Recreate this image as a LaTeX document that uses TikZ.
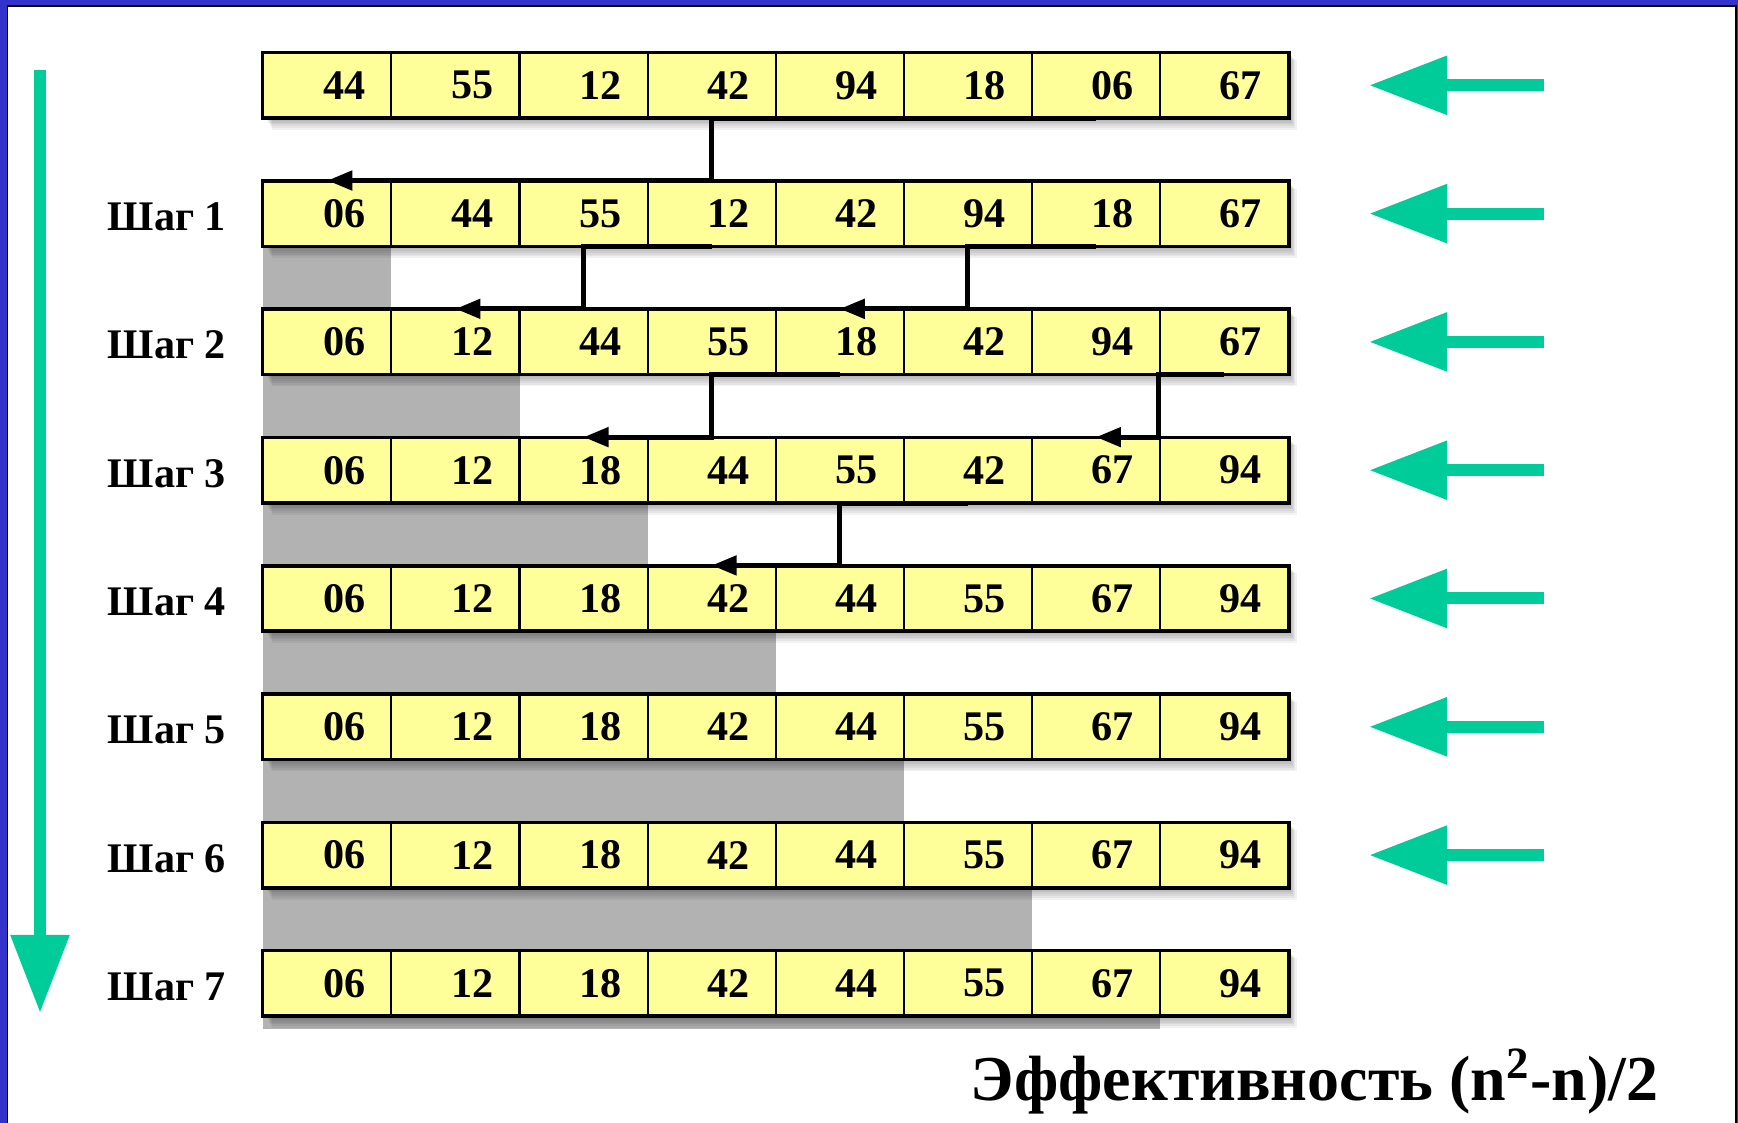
\documentclass[tikz,border=0pt]{standalone}
\usepackage{fontspec}
\setmainfont{Liberation Serif}
\usepackage{tikz}
\usetikzlibrary{arrows.meta, positioning, calc}
\definecolor{cellYellow}{RGB}{255,255,153}
\definecolor{doneGray}{RGB}{178,178,178}
\definecolor{hintGreen}{RGB}{0,204,153}
\definecolor{frameBlue}{RGB}{51,51,204}
\tikzset{
    cellBox/.style={rectangle, draw=black, fill=cellYellow, line width=0.6pt, minimum width=12.81mm, minimum height=6.4mm,
        inner xsep=2.6mm, inner ysep=0pt, text width=7.6mm, align=right, font=\fontsize{12pt}{14pt}\selectfont\bfseries},
    rowFrame/.style={draw=black, line width=0.85pt},
    moveArrow/.style={-{Triangle[length=2.5mm, width=1.9mm]}, line width=1.4pt},
    hintArrow/.style={-{Triangle[length=7.8mm, width=5.6mm]}, draw=hintGreen, line width=1.2mm},
    stepLabel/.style={font=\fontsize{12pt}{15pt}\selectfont\bfseries, inner sep=0pt},
    effLabel/.style={font=\fontsize{18.2pt}{22pt}\selectfont\bfseries, inner sep=0pt}
}

\begin{document}
\begin{tikzpicture}[x=0.1mm, y=-0.1mm]

        % --- Page and frame ---
        \useasboundingbox (0,0) rectangle (1738,1123);
        \fill[frameBlue] (0,0) rectangle (1738,1123);
        \clip (0,0) rectangle (1738,1123);
        \filldraw[fill=white, draw=black, line width=0.5pt] (7.5,5.8) rectangle (1735.8,1140);

        % --- Grid sizes ---
        \def\xO{263.3}
        \def\cw{128.1}
        \def\yO{53.3}
        \def\rp{128.3}
        \def\rh{64}

        % --- Soft shadow under a row ---
        \def\drawRowShadow#1{
            \foreach \k in {1,...,7} {
                \fill[black, opacity=0.05] ({\xO+2+\k}, {#1+\k}) rectangle ({\xO+8*\cw+\k*1.2}, {#1+\rh+\k*1.8});
            }
        }

        % --- Sorted part (gray) ---
        \foreach \k/\h in {1/64.3, 2/64.3, 3/64.3, 4/64.3, 5/64.3, 6/64.3, 7/14} {
            \fill[doneGray] (\xO, {\yO+\k*\rp+\rh}) rectangle ({\xO+\k*\cw}, {\yO+\k*\rp+\rh+\h});
        }

        % --- Rows of cells ---
        \foreach \r/\vals in {0/{44,55,12,42,94,18,06,67},
                              1/{06,44,55,12,42,94,18,67},
                              2/{06,12,44,55,18,42,94,67},
                              3/{06,12,18,44,55,42,67,94},
                              4/{06,12,18,42,44,55,67,94},
                              5/{06,12,18,42,44,55,67,94},
                              6/{06,12,18,42,44,55,67,94},
                              7/{06,12,18,42,44,55,67,94}} {
            \drawRowShadow{\yO+\r*\rp}
            \foreach \v [count=\i from 0] in \vals {
                \node[cellBox] (c\r\i) at ({\xO+(\i+0.5)*\cw}, {\yO+\r*\rp+\rh/2}) {\v};
            }
            \draw[rowFrame] (c\r0.north west) rectangle (c\r7.south east);
        }

        % --- Step labels ---
        \foreach \r in {1,...,7} {
            \node[stepLabel, anchor=base west] (lab\r) at (107, {\yO+\r*\rp+49}) {Шаг \r};
        }

        % --- Moves between rows ---
        \draw[moveArrow] (c06.south) -- (c03.south) -- (c13.north) -- (c10.north);
        \draw[moveArrow] (c13.south) -- (c12.south) -- (c22.north) -- (c21.north);
        \draw[moveArrow] (c16.south) -- (c15.south) -- (c25.north) -- (c24.north);
        \draw[moveArrow] (c24.south) -- (c23.south) -- (c33.north) -- (c32.north);
        \draw[moveArrow] (c27.south) -- (c27.south west) -- (c37.north west) -- (c36.north);
        \draw[moveArrow] (c35.south) -- (c34.south) -- (c44.north) -- (c43.north);

        % --- Green pointers ---
        \foreach \r in {0,...,6} {
            \coordinate (gs\r) at (1544, {\yO+\r*\rp+\rh/2});
            \coordinate (ge\r) at (1369, {\yO+\r*\rp+\rh/2});
            \draw[hintArrow] (gs\r) -- (ge\r);
        }
        \coordinate (vTop) at (40,70);
        \coordinate (vEnd) at (40,1013);
        \draw[hintArrow] (vTop) -- (vEnd);

        % --- Efficiency ---
        \node[effLabel, anchor=base east] (eff) at (1659,1101) {Эффективность (n\textsuperscript{2}-n)/2};

\end{tikzpicture}
\end{document}
